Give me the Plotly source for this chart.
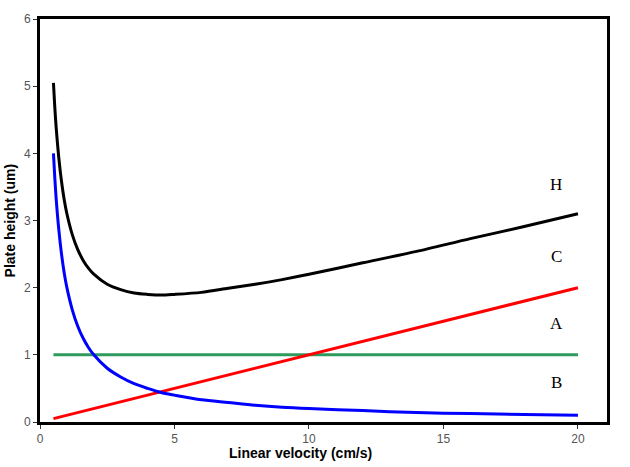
import plotly.graph_objects as go

# Linear velocity (cm/s) sample points
u = [0.5, 0.55, 0.6, 0.7, 0.8, 0.9, 1.0, 1.2, 1.4, 1.6, 1.8, 2.0, 2.5, 3.0, 3.5, 4.0, 4.5, 5.0,
     6.0, 7.0, 8.0, 9.0, 10.0, 12.0, 14.0, 16.0, 18.0, 20.0]
# Plate height contributions (um)
h_total = [5.05, 4.69, 4.39, 3.93, 3.58, 3.31, 3.10, 2.79, 2.57, 2.41, 2.29, 2.20, 2.05, 1.97, 1.92, 1.90, 1.89, 1.90,
           1.93, 1.99, 2.05, 2.12, 2.20, 2.37, 2.54, 2.73, 2.91, 3.10]
b_term = [4.00, 3.64, 3.33, 2.86, 2.50, 2.22, 2.00, 1.67, 1.43, 1.25, 1.11, 1.00, 0.80, 0.67, 0.57, 0.50, 0.44, 0.40,
          0.33, 0.29, 0.25, 0.22, 0.20, 0.17, 0.14, 0.125, 0.11, 0.10]
c_u = [0.5, 20.0]
c_term = [0.05, 2.0]
a_u = [0.5, 20.0]
a_term = [1.0, 1.0]

labels = ["H", "C", "A", "B"]
label_x = [19.2, 19.2, 19.2, 19.2]
label_y = [3.53, 2.47, 1.47, 0.59]

fig = go.Figure()
fig.add_trace(go.Scatter(x=a_u, y=a_term, mode="lines", line=dict(color="#2e9a5c", width=3), name="A"))
fig.add_trace(go.Scatter(x=c_u, y=c_term, mode="lines", line=dict(color="#ff0000", width=3), name="C"))
fig.add_trace(go.Scatter(x=u, y=b_term, mode="lines", line=dict(color="#0000ff", width=3, shape="spline", smoothing=0.8), name="B"))
fig.add_trace(go.Scatter(x=u, y=h_total, mode="lines", line=dict(color="#000000", width=3, shape="spline", smoothing=0.8), name="H"))

for t, lx, ly in zip(labels, label_x, label_y):
    fig.add_annotation(x=lx, y=ly, text=t, showarrow=False,
                       font=dict(family="Liberation Serif", size=17, color="black"))

fig.add_annotation(xref="paper", yref="paper", x=0.459, y=-0.052, yanchor="top",
                   text="<b>Linear velocity (cm/s)</b>", showarrow=False,
                   font=dict(family="Liberation Sans", size=14, color="black"))
fig.add_annotation(xref="paper", yref="paper", x=-0.053, y=0.5, textangle=-90,
                   xanchor="center", text="<b>Plate height (um)</b>", showarrow=False,
                   font=dict(family="Liberation Sans", size=14, color="black"))

axis_common = dict(showline=True, linewidth=3, linecolor="black", mirror=True,
                   showgrid=False, zeroline=False, ticks="outside", ticklen=4,
                   tickwidth=1, tickcolor="#333",
                   tickfont=dict(family="Liberation Sans", size=12, color="#555"))
fig.update_layout(
    width=630, height=467,
    margin=dict(l=40, r=23, t=14, b=45),
    plot_bgcolor="white", paper_bgcolor="white",
    showlegend=False,
    xaxis=dict(range=[0, 21.08], tickvals=[0, 5, 10, 15, 20], **axis_common),
    yaxis=dict(range=[0, 6], tickvals=[0, 1, 2, 3, 4, 5, 6], **axis_common),
)
fig.write_html("out.html")
